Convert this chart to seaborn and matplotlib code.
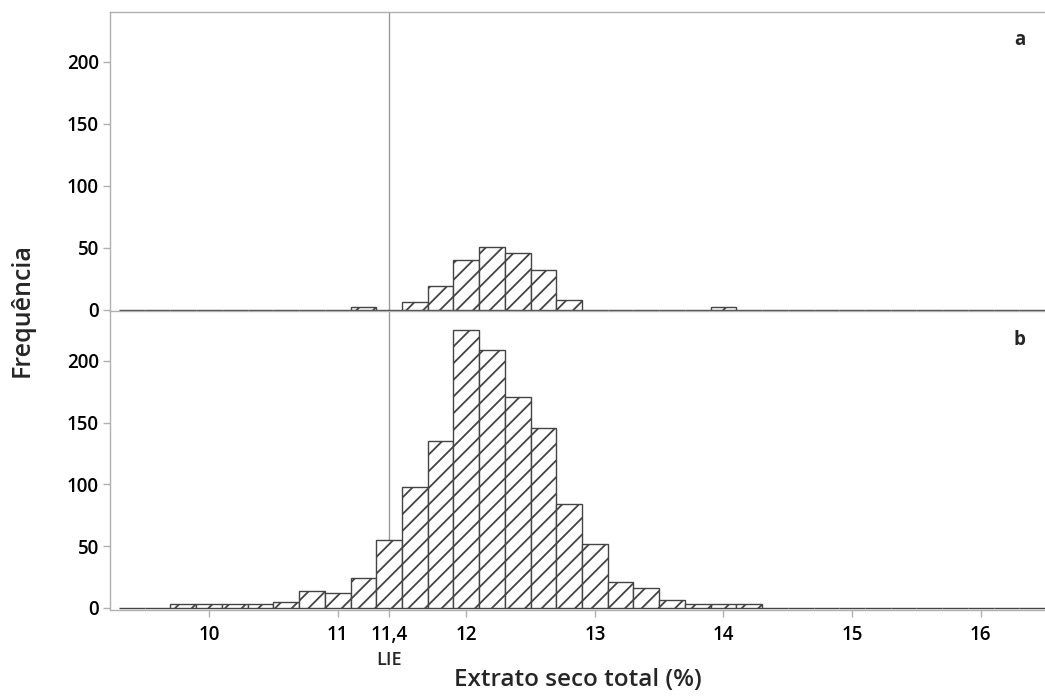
import numpy as np
import pandas as pd
import matplotlib
matplotlib.use("Agg")
import matplotlib.pyplot as plt
import seaborn as sns

# ---- data ----
bin_edges = [round(v, 1) for v in np.arange(9.3, 16.5 + 0.001, 0.2)]

centers_a = [11.2, 11.6, 11.8, 12.0, 12.2, 12.4, 12.6, 12.8, 14.0]
counts_a = [2, 6, 19, 40, 51, 46, 32, 8, 2]

centers_b = [9.8, 10.0, 10.2, 10.4, 10.6, 10.8, 11.0, 11.2, 11.4, 11.6, 11.8,
             12.0, 12.2, 12.4, 12.6, 12.8, 13.0, 13.2, 13.4, 13.6, 13.8, 14.0, 14.2]
counts_b = [3, 3, 3, 3, 5, 14, 12, 24, 55, 98, 135,
            225, 209, 171, 146, 84, 52, 21, 16, 6, 3, 3, 3]

x_ticks = [10, 11, 11.4, 12, 13, 14, 15, 16]
x_tick_labels = ["10", "11", "11,4", "12", "13", "14", "15", "16"]
y_ticks = [0, 50, 100, 150, 200]
lie_value = 11.4
panel_labels = ["a", "b"]

# ---- style ----
sns.set_theme(style="white")
plt.rcParams["font.family"] = ["Open Sans", "DejaVu Sans"]
plt.rcParams["hatch.linewidth"] = 1.3
plt.rcParams["hatch.color"] = "#444444"

spine_col = "#b0b0b0"
edge_col = "#444444"

fig = plt.figure(figsize=(10.45, 6.98), dpi=100)
ax_a = fig.add_axes([110 / 1045, 1 - 311.5 / 698, 1 - 110 / 1045, 299.5 / 698])
ax_b = fig.add_axes([110 / 1045, 1 - 609.5 / 698, 1 - 110 / 1045, 298 / 698])

dfs = [pd.DataFrame({"x": centers_a, "w": counts_a}),
       pd.DataFrame({"x": centers_b, "w": counts_b})]

for ax, df, lab in zip([ax_a, ax_b], dfs, panel_labels):
    sns.histplot(data=df, x="x", weights="w", bins=bin_edges, ax=ax,
                 color="white", edgecolor=edge_col, linewidth=1.0, alpha=1)
    for p in ax.patches:
        p.set_hatch("//")
    ax.axvline(lie_value, color="#9a9a9a", lw=1.0, zorder=0.5)
    ax.set_xlim(9.23, 16.5)
    ax.set_ylim(-1.3, 240)
    ax.set_yticks(y_ticks)
    ax.set_ylabel("")
    ax.set_xlabel("")
    for s in ["left", "top", "bottom"]:
        ax.spines[s].set_color(spine_col)
        ax.spines[s].set_linewidth(1.0)
    ax.spines["right"].set_visible(False)
    ax.tick_params(axis="y", direction="out", length=5, width=1, color=spine_col,
                   labelsize=13.5, labelcolor="black", pad=3, left=True)
    for t in ax.get_yticklabels():
        t.set_fontweight("semibold")
    ax.text(0.973, 0.905, lab, transform=ax.transAxes, fontsize=13.5,
            fontweight="bold", ha="center", va="center")
    ax.set_facecolor("white")

ax_a.set_xticks([])
ax_a.spines["bottom"].set_visible(False)

ax_b.set_xticks(x_ticks)
ax_b.set_xticklabels(x_tick_labels)
ax_b.tick_params(axis="x", direction="out", length=5, width=1, color=spine_col,
                 labelsize=13.5, labelcolor="black", pad=6, bottom=True)
for t in ax_b.get_xticklabels():
    t.set_fontweight("semibold")

ax_b.text(lie_value, -0.17, "LIE", transform=ax_b.get_xaxis_transform(),
          ha="center", va="center", fontsize=13, fontweight="semibold")

fig.text((110 + 1045) / 2 / 1045, 1 - 680 / 698, "Extrato seco total (%)",
         ha="center", va="center", fontsize=17.5, fontweight="semibold")
fig.text(22 / 1045, 1 - 310 / 698, "Frequência", rotation=90,
         ha="center", va="center", fontsize=18, fontweight="semibold")

fig.savefig("out.png", dpi=100, facecolor="white")
